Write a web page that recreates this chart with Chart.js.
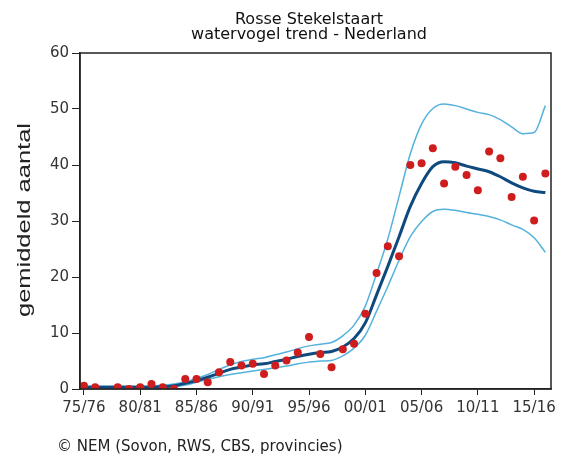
<!DOCTYPE html>
<html>
<head>
<meta charset="utf-8">
<script src="https://cdn.jsdelivr.net/npm/chart.js@4.4.1/dist/chart.umd.min.js"></script>
<style>
  html, body { margin: 0; padding: 0; background: #fff; }
  #wrap { width: 561px; height: 459px; position: relative; }
</style>
</head>
<body>
<div id="wrap"><canvas id="chartTrend"></canvas></div>
<script>
// seizoenen 1975/76 .. 2016/17, index 0 = 75/76
const tickLabels = ['75/76', '80/81', '85/86', '90/91', '95/96', '00/01', '05/06', '10/11', '15/16'];

const counts = [0.6, 0.3, null, 0.3, 0, 0.3, 0.9, 0.3, 0, 1.8,
  1.8, 1.2, 3.0, 4.8, 4.2, 4.5, 2.7, 4.2, 5.1, 6.5,
  9.3, 6.25, 3.9, 7.1, 8.1, 13.45, 20.7, 25.5, 23.7, 40.0,
  40.3, 43.0, 36.7, 39.7, 38.2, 35.5, 42.4, 41.2, 34.3, 37.9,
  30.1, 38.5];

const trend = [0.3, 0.3, 0.3, 0.3, 0.3, 0.3, 0.35, 0.4, 0.6, 1.0,
  1.5, 2.1, 2.8, 3.5, 3.9, 4.3, 4.5, 4.9, 5.3, 5.8,
  6.2, 6.5, 6.7, 7.5, 9.0, 11.8, 16.8, 21.9, 27.2, 32.6,
  36.7, 39.7, 40.6, 40.4, 39.8, 39.3, 38.8, 37.9, 36.8, 35.9,
  35.3, 35.1];

const upper = [0.5, 0.5, 0.5, 0.5, 0.5, 0.5, 0.55, 0.65, 0.9, 1.3,
  1.9, 2.6, 3.5, 4.3, 4.9, 5.3, 5.6, 6.1, 6.6, 7.2,
  7.7, 8.0, 8.3, 9.5, 11.4, 14.8, 20.6, 26.8, 34.4, 42.0,
  47.3, 50.1, 50.9, 50.6, 50.0, 49.4, 49.0, 48.1, 46.8, 45.6,
  45.8, 50.6];

const lower = [0.1, 0.1, 0.1, 0.1, 0.1, 0.15, 0.2, 0.25, 0.4, 0.7,
  1.2, 1.7, 2.2, 2.6, 2.9, 3.2, 3.5, 3.8, 4.1, 4.5,
  4.8, 5.0, 5.1, 5.9, 7.3, 9.6, 13.9, 18.3, 23.0, 27.2,
  29.9, 31.7, 32.1, 31.9, 31.5, 31.2, 30.8, 30.2, 29.3, 28.5,
  27.0, 24.4];

const toXY = arr => arr.map((v, i) => ({ x: i, y: v }));

const tickFont = { family: 'DejaVu Sans', size: 15 };

// kader, titels, as-titel en bronvermelding
const extraTexts = {
  id: 'extraTexts',
  afterDraw(chart) {
    const ctx = chart.ctx;
    const a = chart.chartArea;
    ctx.save();
    ctx.strokeStyle = '#222';
    ctx.lineWidth = 1.5;
    ctx.strokeRect(a.left, a.top, a.right - a.left, a.bottom - a.top);

    ctx.fillStyle = '#111';
    ctx.textAlign = 'center';
    ctx.textBaseline = 'middle';
    ctx.font = '16px "DejaVu Sans"';
    ctx.fillText('Rosse Stekelstaart', 309, 20);
    ctx.fillText('watervogel trend - Nederland', 309, 35);

    ctx.font = '15px "DejaVu Sans"';
    ctx.textAlign = 'left';
    ctx.fillStyle = '#222';
    ctx.fillText('\u00A9 NEM (Sovon, RWS, CBS, provincies)', 57, 447);

    ctx.translate(25, 220);
    ctx.rotate(-Math.PI / 2);
    ctx.font = '19px "Liberation Sans"';
    const w = ctx.measureText('gemiddeld aantal').width;
    ctx.scale(194 / w, 1);
    ctx.textAlign = 'center';
    ctx.fillText('gemiddeld aantal', 0, 0);
    ctx.restore();
  }
};

new Chart(document.getElementById('chartTrend'), {
  type: 'line',
  data: {
    datasets: [
      {
        label: 'tellingen',
        data: toXY(counts),
        showLine: false,
        pointRadius: 4,
        pointBorderWidth: 0,
        pointBackgroundColor: '#cf1d1d',
        order: 0
      },
      {
        label: 'trend',
        data: toXY(trend),
        borderColor: '#0e4a7e',
        borderWidth: 3,
        pointRadius: 0,
        cubicInterpolationMode: 'monotone',
        order: 1
      },
      {
        label: 'bovengrens',
        data: toXY(upper),
        borderColor: '#55b2dc',
        borderWidth: 1.5,
        pointRadius: 0,
        cubicInterpolationMode: 'monotone',
        order: 2
      },
      {
        label: 'ondergrens',
        data: toXY(lower),
        borderColor: '#55b2dc',
        borderWidth: 1.5,
        pointRadius: 0,
        cubicInterpolationMode: 'monotone',
        order: 2
      }
    ]
  },
  options: {
    responsive: true,
    maintainAspectRatio: false,
    animation: false,
    devicePixelRatio: 1,
    layout: { padding: { top: 53, right: 10, left: 0, bottom: 0 } },
    plugins: { legend: { display: false }, tooltip: { enabled: false } },
    scales: {
      x: {
        type: 'linear',
        min: -0.35,
        max: 41.5,
        afterBuildTicks: s => { s.ticks = tickLabels.map((_, k) => ({ value: k * 5 })); },
        afterFit: s => { s.height = 70; },
        ticks: {
          callback: v => tickLabels[v / 5],
          font: tickFont,
          color: '#333',
          padding: 4,
          maxRotation: 0,
          autoSkip: false
        },
        grid: { drawOnChartArea: false, tickLength: 6, color: '#222' },
        border: { color: '#222', width: 1.5 }
      },
      y: {
        min: 0,
        max: 60,
        afterFit: s => { s.width = 80; },
        ticks: { stepSize: 10, font: tickFont, color: '#333', padding: 3 },
        grid: { drawOnChartArea: false, tickLength: 8, color: '#222' },
        border: { color: '#222', width: 1.5 }
      }
    }
  },
  plugins: [extraTexts]
});
</script>
</body>
</html>
